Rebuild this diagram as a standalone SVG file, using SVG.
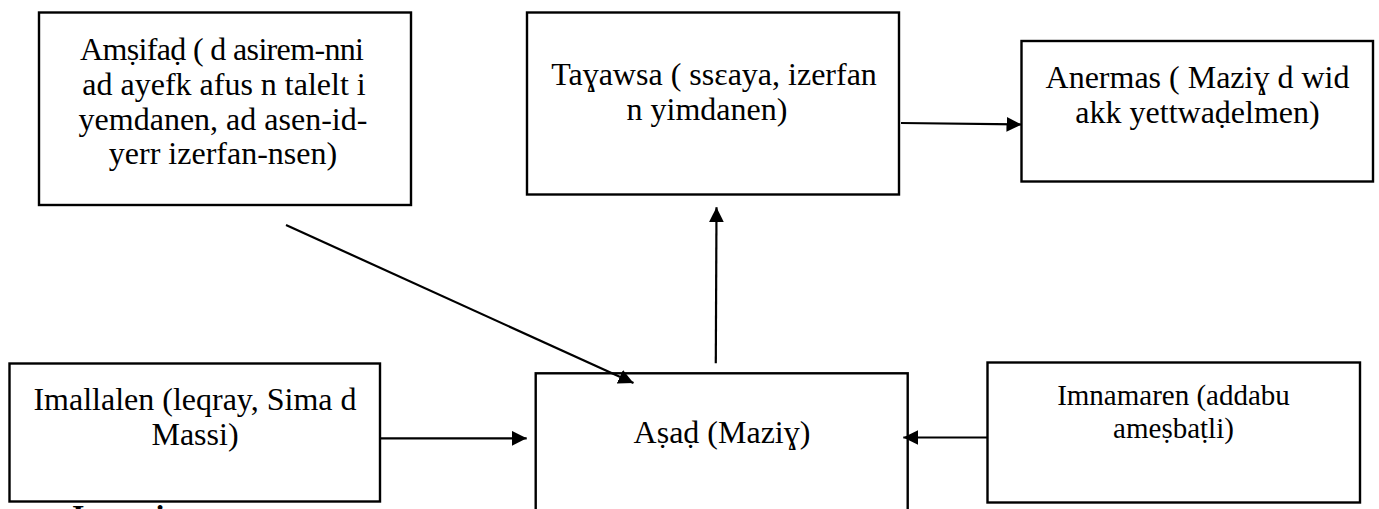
<svg xmlns="http://www.w3.org/2000/svg" width="1379" height="509" viewBox="0 0 1379 509">
<style>
.box{fill:#fff;stroke:#000;stroke-width:2.4}
.t{font-family:"Liberation Serif","Times New Roman",serif;font-size:32px;fill:#000;text-anchor:middle}
.s{font-size:29px}
.c{stroke:#000;stroke-width:2.2;fill:none;marker-end:url(#ah)}
.b{font-family:"Liberation Serif","Times New Roman",serif;font-size:32px;font-weight:bold;fill:#000}
</style>
<defs>
<marker id="ah" markerUnits="userSpaceOnUse" markerWidth="16" markerHeight="16" refX="15" refY="7.5" orient="auto">
<path d="M0,0 L15,7.5 L0,15 z" fill="#000"/>
</marker>
</defs>
<rect width="1379" height="509" fill="#fff"/>
<g id="n-amsifad">
<rect class="box" x="39" y="12.5" width="372" height="192.5"/>
<text class="t" x="222" y="59.5" textLength="284" lengthAdjust="spacing">Amṣifaḍ ( d asirem-nni</text>
<text class="t" x="224" y="94.5">ad ayefk afus n talelt i</text>
<text class="t" x="223" y="129.5">yemdanen, ad asen-id-</text>
<text class="t" x="223" y="164">yerr izerfan-nsen)</text>
</g>
<g id="n-tayawsa">
<rect class="box" x="527" y="12.5" width="372" height="182"/>
<text class="t" x="714" y="85">Taɣawsa ( ssεaya, izerfan</text>
<text class="t" x="707" y="120">n yimdanen)</text>
</g>
<g id="n-anermas">
<rect class="box" x="1021.5" y="41" width="351.5" height="140.5"/>
<text class="t" x="1197.5" y="87.5">Anermas ( Maziɣ d wid</text>
<text class="t" x="1197.5" y="122.5">akk yettwaḍelmen)</text>
</g>
<g id="n-imallalen">
<rect class="box" x="9.5" y="363.5" width="370.5" height="138"/>
<text class="t" x="195" y="410">Imallalen (leqray, Sima d</text>
<text class="t" x="195" y="445">Massi)</text>
</g>
<g id="n-asad">
<rect class="box" x="535.7" y="373.3" width="372" height="160"/>
<text class="t" x="722" y="443">Aṣaḍ (Maziɣ)</text>
</g>
<g id="n-imnamaren">
<rect class="box" x="987.5" y="362.5" width="372.5" height="140"/>
<text class="t s" x="1173.5" y="404.5">Imnamaren (addabu</text>
<text class="t s" x="1173.5" y="438">ameṣbaṭli)</text>
</g>
<g id="connectors">
<line class="c" x1="901" y1="123" x2="1021.5" y2="124.5"/>
<line class="c" x1="715.8" y1="363.3" x2="716.5" y2="207.3"/>
<line class="c" x1="286" y1="225" x2="633.5" y2="383"/>
<line class="c" x1="381" y1="438.3" x2="526.7" y2="438.3"/>
<line class="c" x1="987.5" y1="437.5" x2="903.3" y2="437.5"/>
</g>
<text class="b" x="72" y="526.5">Imeɣrit</text>
</svg>
